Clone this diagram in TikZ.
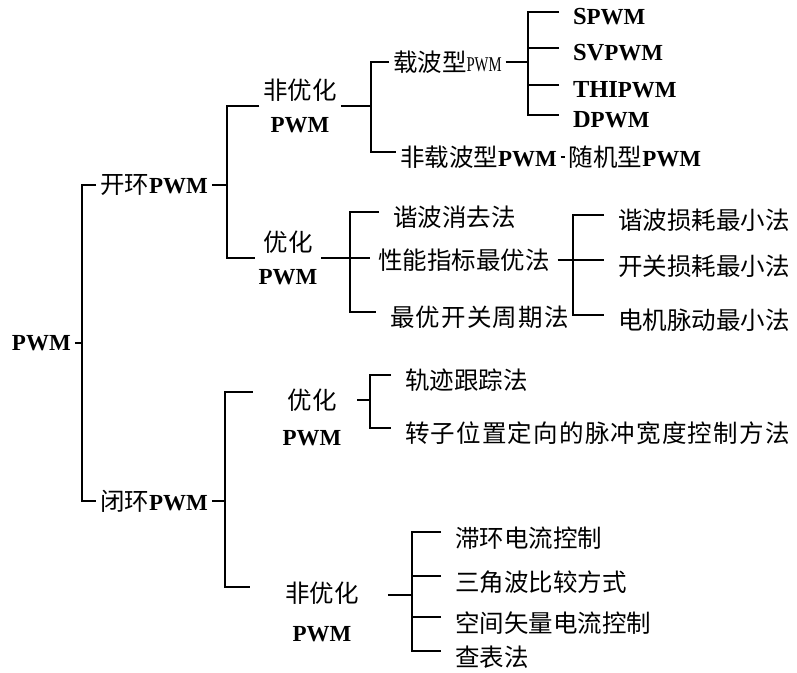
\documentclass[tikz,border=0pt]{standalone}
\usepackage{fontspec}
\setmainfont{Liberation Serif}
\newfontfamily\cjk{Noto Sans CJK SC}
\newfontfamily\cjkwide[LetterSpace=5]{Noto Sans CJK SC}
\usetikzlibrary{positioning}
\newcommand\hz[1]{{\cjk #1}}
\newcommand\hzw[1]{{\cjkwide #1}}
\newcommand\pwmb{{\fontsize{23}{33}\selectfont\bfseries PWM}}
\newcommand\pwmn{\scalebox{0.7}[1]{\fontsize{21}{33}\selectfont PWM}}

\begin{document}
\begin{tikzpicture}[x=1pt,y=-1pt,line width=1.6pt,
    every node/.style={inner sep=0pt,outer sep=4pt,anchor=west,font=\fontsize{24.5}{33}\selectfont},
    leaf/.style={outer xsep=14pt},
    twoline/.style={anchor=center,align=center}]
  \useasboundingbox (0,0) rectangle (797,672);
  \node (root) at (8,343) {\pwmb};
  \node (kaih) at (96,185) {\hz{开环}\pwmb};
  \node (bih) at (96,501) {\hz{闭环}\pwmb};
  \coordinate (b0) at (82,0);
  \draw (root.east) -- (root.east -| b0);
  \draw (kaih.west) -| (b0 |- bih.west) -- (bih.west);

  \node[twoline] (kfyh) at (300,106) {\hz{非优化}\\\pwmb};
  \node[twoline] (kyh) at (288,258) {\hz{优化}\\\pwmb};
  \coordinate (b1) at (227,0);
  \draw (kaih.east) -- (kaih.east -| b1);
  \draw (kfyh.west) -| (b1 |- kyh.west) -- (kyh.west);

  \node (zbx) at (389,62) {\hz{载波型}\pwmn};
  \node (fzbx) at (396,157) {\hz{非载波型}\pwmb};
  \node[right=4pt of fzbx] (sjx) {\hz{随机型}\pwmb};
  \coordinate (b2) at (371,0);
  \draw (kfyh.east) -- (kfyh.east -| b2);
  \draw (zbx.west) -| ([yshift=5pt]fzbx.west -| b2) -- ([yshift=5pt]fzbx.west);
  \draw (fzbx.east) -- (sjx.west);

  \node[leaf] (spwm) at (559,17) {\textbf{S}\pwmb};
  \node[leaf] (svpwm) at (559,53) {\textbf{SV}\pwmb};
  \node[leaf] (thipwm) at (559,90) {\textbf{THI}\pwmb};
  \node[leaf] (dpwm) at (559,120) {\textbf{D}\pwmb};
  \coordinate (b3) at (528,0);
  \draw (zbx.east) -- (zbx.east -| b3);
  \draw ([yshift=5pt]spwm.west) -| ([yshift=5pt]dpwm.west -| b3) -- ([yshift=5pt]dpwm.west);
  \draw ([yshift=5pt]svpwm.west) -- ([yshift=5pt]svpwm.west -| b3);
  \draw ([yshift=5pt]thipwm.west) -- ([yshift=5pt]thipwm.west -| b3);

  \node[leaf] (xbxq) at (379,217) {\hz{谐波消去法}};
  \node[outer xsep=8pt] (xnzb) at (370,260) {\hz{性能指标最优法}};
  \node[leaf] (zykg) at (376,317) {\hzw{最优开关周期法}};
  \coordinate (b4) at (350,0);
  \draw (kyh.east) -- (kyh.east -| xnzb.west);
  \draw ([yshift=5pt]xbxq.west) -| ([yshift=5pt]zykg.west -| b4) -- ([yshift=5pt]zykg.west);

  \node[leaf] (xbsh) at (604,220) {\hz{谐波损耗最小法}};
  \node[leaf] (kgsh) at (604,266) {\hz{开关损耗最小法}};
  \node[leaf] (djmd) at (604,320) {\hz{电机脉动最小法}};
  \coordinate (b5) at (573,0);
  \draw (xnzb.east) -- (xnzb.east -| kgsh.west);
  \draw ([yshift=5pt]xbsh.west) -| ([yshift=5pt]djmd.west -| b5) -- ([yshift=5pt]djmd.west);

  \node[twoline] (byh) at (312,417) {\hz{优化}\\[3pt]\pwmb};
  \node[twoline] (bfyh) at (322,612) {\hz{非优化}\\[6pt]\pwmb};
  \coordinate (b6) at (225,0);
  \draw (bih.east) -- (bih.east -| b6);
  \draw ([xshift=-26pt,yshift=25pt]byh.west) -| ([yshift=25pt]bfyh.west -| b6) -- ([xshift=-31pt,yshift=25pt]bfyh.west);

  \node[leaf] (gjgz) at (391,380) {\hz{轨迹跟踪法}};
  \node[leaf] (zzdx) at (391,433) {\hzw{转子位置定向的脉冲宽度控制方法}};
  \coordinate (b7) at (370,0);
  \draw ([xshift=12pt,yshift=17pt]byh.east) -- ([yshift=17pt]byh.east -| b7);
  \draw ([yshift=5pt]gjgz.west) -| ([yshift=5pt]zzdx.west -| b7) -- ([yshift=5pt]zzdx.west);

  \node[leaf] (zhdl) at (441,538) {\hz{滞环电流控制}};
  \node[leaf] (sjbj) at (441,582) {\hz{三角波比较方式}};
  \node[leaf] (kjsl) at (441,623) {\hz{空间矢量电流控制}};
  \node[leaf] (cbf) at (441,657) {\hz{查表法}};
  \coordinate (b8) at (412,0);
  \draw ([xshift=25pt,yshift=17pt]bfyh.east) -- ([yshift=17pt]bfyh.east -| b8);
  \draw ([yshift=6pt]zhdl.west) -| ([yshift=6pt]cbf.west -| b8) -- ([yshift=6pt]cbf.west);
  \draw ([yshift=6pt]sjbj.west) -- ([yshift=6pt]sjbj.west -| b8);
  \draw ([yshift=6pt]kjsl.west) -- ([yshift=6pt]kjsl.west -| b8);
\end{tikzpicture}
\end{document}
